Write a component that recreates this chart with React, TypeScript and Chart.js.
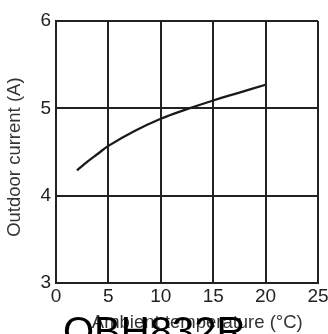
import React, { useEffect, useRef } from "react";
import { Chart, registerables } from "chart.js";

Chart.register(...registerables);

const temperatures = [2, 3, 4, 5, 7.5, 10, 12.5, 15, 17.5, 20];
const currents = [4.29, 4.39, 4.48, 4.57, 4.74, 4.88, 4.99, 5.09, 5.18, 5.27];
const xTitle = "Ambient temperature (°C)";
const yTitle = "Outdoor current (A)";
const bigTitle = "OBH832R";

const FONT = '"Liberation Sans", Arial, Helvetica, sans-serif';

export default function App() {
  const ref = useRef<HTMLCanvasElement | null>(null);

  useEffect(() => {
    if (!ref.current) return;
    const bigTitlePlugin = {
      id: "bigTitle",
      afterDraw(chart: any) {
        const ctx = chart.ctx;
        ctx.save();
        ctx.font = `40px ${FONT}`;
        ctx.fillStyle = "#000";
        ctx.textAlign = "left";
        ctx.textBaseline = "alphabetic";
        ctx.fillText(bigTitle, 63, 345);
        ctx.restore();
      },
    };
    const chart = new Chart(ref.current, {
      type: "line",
      data: {
        datasets: [
          {
            data: temperatures.map((t, i) => ({ x: t, y: currents[i] })),
            borderColor: "#1a1a1a",
            borderWidth: 2.3,
            pointRadius: 0,
            fill: false,
            tension: 0.4,
          },
        ],
      },
      options: {
        animation: false,
        responsive: false,
        layout: { padding: { top: 21, right: 10, left: 0, bottom: 0 } },
        plugins: { legend: { display: false }, tooltip: { enabled: false } },
        scales: {
          x: {
            type: "linear",
            min: 0,
            max: 25,
            ticks: { stepSize: 5, padding: 2, color: "#222", font: { family: FONT, size: 19 } },
            grid: { color: "#222", lineWidth: 2, drawTicks: false },
            border: { color: "#222", width: 2 },
            title: {
              display: true,
              text: "    " + xTitle,
              color: "#333",
              font: { family: FONT, size: 18.5 },
              padding: { top: 0, bottom: 0 },
            },
            afterFit(scale: any) {
              scale.height = 51;
              scale.paddingLeft = 0;
              scale.paddingRight = 0;
            },
          },
          y: {
            type: "linear",
            min: 3,
            max: 6,
            ticks: { stepSize: 1, padding: 5, color: "#222", font: { family: FONT, size: 19 } },
            grid: { color: "#222", lineWidth: 2, drawTicks: false },
            border: { color: "#222", width: 2 },
            title: {
              display: true,
              text: yTitle + "  ",
              color: "#333",
              font: { family: FONT, size: 18.5 },
              padding: { top: 4, bottom: 0 },
            },
            afterFit(scale: any) {
              scale.width = 56;
              scale.paddingTop = 0;
              scale.paddingBottom = 0;
            },
          },
        },
      },
      plugins: [bigTitlePlugin],
    } as any);
    return () => chart.destroy();
  }, []);

  return (
    <div style={{ position: "absolute", left: 0, top: 0, width: 328, height: 334, overflow: "hidden", background: "#fff" }}>
      <canvas ref={ref} width={328} height={334} style={{ display: "block" }} />
    </div>
  );
}
